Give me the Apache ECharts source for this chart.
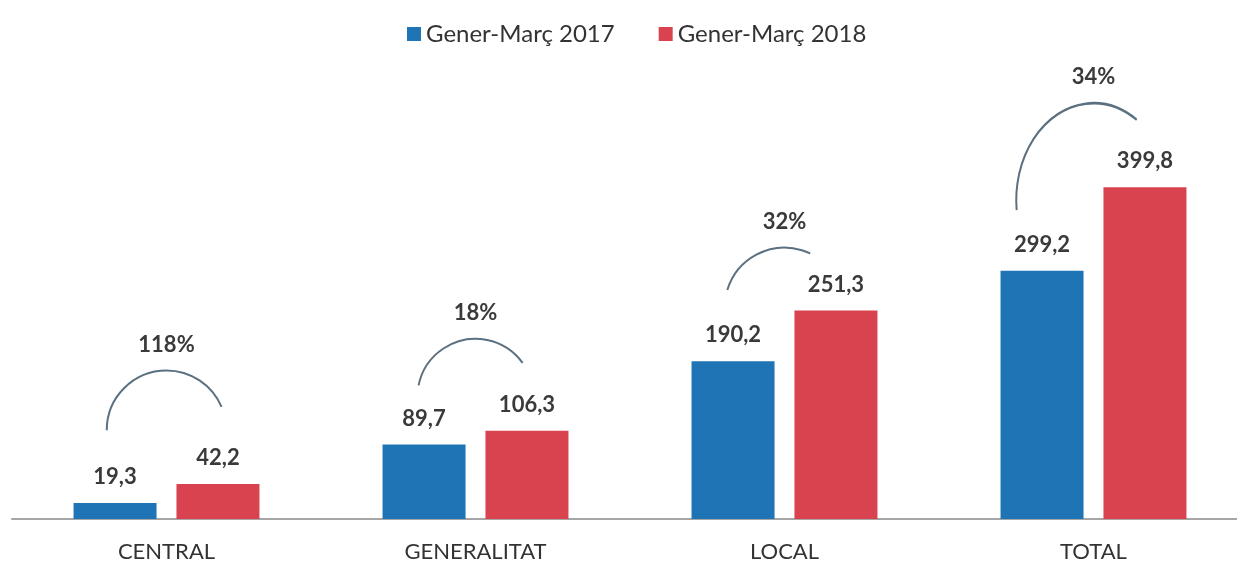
<!DOCTYPE html>
<html>
<head>
<meta charset="utf-8">
<script src="https://cdn.jsdelivr.net/npm/echarts@6/dist/echarts.min.js"></script>
<style>
  html, body { margin: 0; padding: 0; background: #fff; }
  #chart { width: 1237px; height: 562px; }
</style>
</head>
<body>
<div id="chart"></div>
<script>
var categories = ['CENTRAL', 'GENERALITAT', 'LOCAL', 'TOTAL'];
var values2017 = [19.3, 89.7, 190.2, 299.2];
var values2018 = [42.2, 106.3, 251.3, 399.8];
var growthLabels = ['118%', '18%', '32%', '34%'];
// growth arcs in data units
var arcCentre = [107, 147, 255, 384];
var arcPeak = [179, 217, 327, 501];
var arcStart = [107, 161, 276, 372];
var arcEnd = [135, 188, 320, 481];

var chartDom = document.getElementById('chart');
var myChart = echarts.init(chartDom);
var font = 'Lato, "Open Sans", sans-serif';

function fmt(p) {
  return p.value.toFixed(1).replace('.', ',');
}

var arcData = categories.map(function (c, i) {
  return [i, arcCentre[i], arcPeak[i], arcStart[i], arcEnd[i]];
});

var option = {
  animation: false,
  backgroundColor: '#fff',
  textStyle: { fontFamily: font },
  legend: {
    data: ['Gener-Març 2017', 'Gener-Març 2018'],
    top: 17,
    left: 402,
    icon: 'rect',
    itemWidth: 14,
    itemHeight: 14,
    itemGap: 44,
    textStyle: { fontSize: 24, color: '#333', fontFamily: font }
  },
  grid: { left: 12, width: 1236, top: 104, bottom: 43, outerBoundsMode: 'none' },
  xAxis: {
    type: 'category',
    data: categories,
    axisLine: { lineStyle: { color: '#a6a6a6', width: 2 } },
    axisTick: { show: false },
    axisLabel: { fontSize: 22, color: '#333', margin: 22, fontFamily: font }
  },
  yAxis: { type: 'value', min: 0, max: 500, show: false, splitLine: { show: false } },
  series: [
    {
      name: 'Gener-Març 2017',
      type: 'bar',
      data: values2017,
      barWidth: 83,
      barGap: '24%',
      itemStyle: { color: '#1f74b6' },
      label: { show: true, position: 'top', distance: 15, formatter: fmt,
        fontSize: 22, fontWeight: 'bold', color: '#3a3a3a', fontFamily: font }
    },
    {
      name: 'Gener-Març 2018',
      type: 'bar',
      data: values2018,
      barWidth: 83,
      itemStyle: { color: '#d8434f' },
      label: { show: true, position: 'top', distance: 15, formatter: fmt,
        fontSize: 22, fontWeight: 'bold', color: '#3a3a3a', fontFamily: font }
    },
    {
      type: 'custom',
      data: arcData,
      encode: { x: 0, y: 1 },
      z: 5,
      renderItem: function (params, api) {
        var i = api.value(0);
        var c = api.coord([i, api.value(1)]);
        var top = api.coord([i, api.value(2)]);
        var s = api.coord([i, api.value(3)]);
        var e = api.coord([i, api.value(4)]);
        var ry = c[1] - top[1];
        var band = api.size([1, 0])[0];
        var rx = Math.min(ry, band * 0.25);
        var clamp = function (v) { return Math.max(-1, Math.min(1, v)); };
        var a0 = Math.PI + Math.asin(clamp((c[1] - s[1]) / ry));
        var a1 = 2 * Math.PI - Math.asin(clamp((c[1] - e[1]) / ry));
        return {
          type: 'group',
          children: [
            {
              type: 'arc',
              shape: { cx: c[0], cy: c[1], r: rx, startAngle: a0, endAngle: a1, clockwise: true },
              scaleY: ry / rx,
              originX: c[0],
              originY: c[1],
              style: { stroke: '#5b7080', lineWidth: 2, fill: null, strokeNoScale: true }
            },
            {
              type: 'text',
              x: c[0],
              y: top[1] - 26,
              style: {
                text: growthLabels[params.dataIndex],
                align: 'center',
                verticalAlign: 'middle',
                fontSize: 22,
                fontWeight: 'bold',
                fill: '#3a3a3a',
                fontFamily: font
              }
            }
          ]
        };
      }
    }
  ]
};

myChart.setOption(option);
</script>
</body>
</html>
